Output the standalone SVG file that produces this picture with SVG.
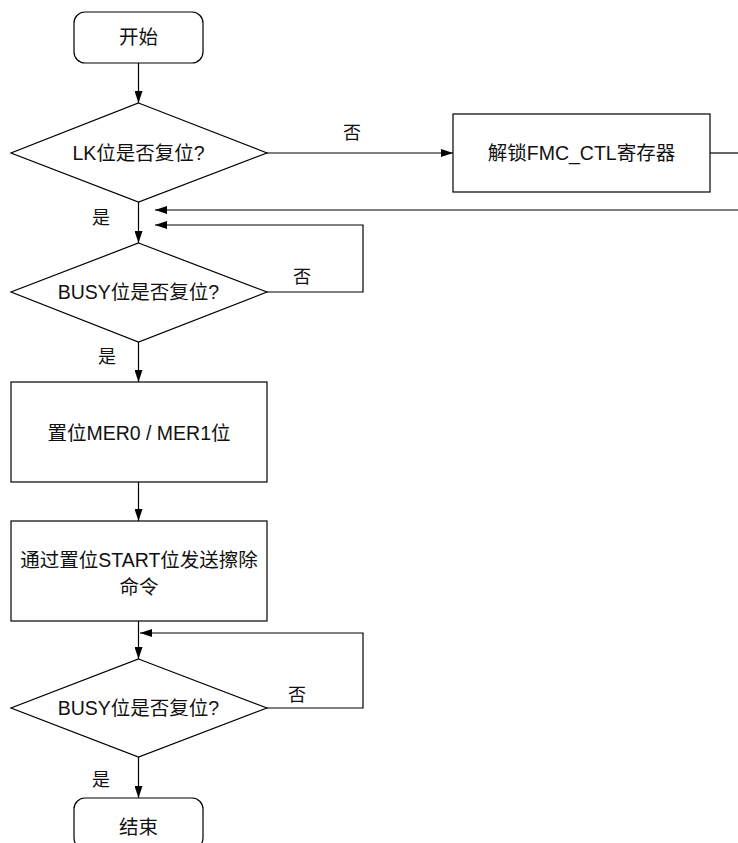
<svg xmlns="http://www.w3.org/2000/svg" width="738" height="843" viewBox="0 0 738 843">
<defs>
<marker id="ah" viewBox="0 0 12 8" refX="12" refY="4" markerWidth="12" markerHeight="8" markerUnits="userSpaceOnUse" orient="auto">
<path d="M0,0 L12,4 L0,8 Z" fill="#000"/>
</marker>
</defs>
<style>
.s{fill:#fff;stroke:#000;stroke-width:1.2}
.c{fill:none;stroke:#000;stroke-width:1.2}
.t{font-family:"Liberation Sans","Noto Sans CJK SC",sans-serif;font-size:19.5px;fill:#111;text-anchor:middle}
.l{font-family:"Liberation Sans","Noto Sans CJK SC",sans-serif;font-size:18px;fill:#111;text-anchor:middle}
</style>
<rect width="738" height="843" fill="#fff"/>
<g id="connectors">
<line class="c" x1="138.5" y1="63" x2="138.5" y2="103" marker-end="url(#ah)"/>
<line class="c" x1="267" y1="153" x2="453" y2="153" marker-end="url(#ah)"/>
<line class="c" x1="710" y1="153" x2="738" y2="153"/>
<line class="c" x1="738" y1="210" x2="155" y2="210" marker-end="url(#ah)"/>
<line class="c" x1="138.5" y1="202" x2="138.5" y2="243" marker-end="url(#ah)"/>
<polyline class="c" points="267,292 363,292 363,225 155,225" marker-end="url(#ah)"/>
<line class="c" x1="138.5" y1="342" x2="138.5" y2="382" marker-end="url(#ah)"/>
<line class="c" x1="138.5" y1="482" x2="138.5" y2="521" marker-end="url(#ah)"/>
<line class="c" x1="138.5" y1="621" x2="138.5" y2="659" marker-end="url(#ah)"/>
<polyline class="c" points="267,708 363,708 363,633 140,633" marker-end="url(#ah)"/>
<line class="c" x1="138.5" y1="757" x2="138.5" y2="798" marker-end="url(#ah)"/>
<text class="l" x="352" y="139">否</text>
<text class="l" x="101" y="224">是</text>
<text class="l" x="302" y="283">否</text>
<text class="l" x="107" y="363">是</text>
<text class="l" x="297" y="701">否</text>
<text class="l" x="101" y="786">是</text>
</g>
<g id="start">
<rect class="s" x="74" y="12" width="129" height="51" rx="11"/>
<text class="t" x="138.5" y="44">开始</text>
</g>
<g id="d1">
<polygon class="s" points="138.5,103 267,153 138.5,202 11,153"/>
<text class="t" x="138.5" y="160">LK位是否复位?</text>
</g>
<g id="unlock">
<rect class="s" x="453" y="114" width="257" height="78"/>
<text class="t" x="581.5" y="160">解锁FMC_CTL寄存器</text>
</g>
<g id="d2">
<polygon class="s" points="138.5,243 267,292 138.5,342 11,292"/>
<text class="t" x="138.5" y="299">BUSY位是否复位?</text>
</g>
<g id="setmer">
<rect class="s" x="11" y="382" width="256" height="100"/>
<text class="t" x="139" y="440">置位MER0 / MER1位</text>
</g>
<g id="start_erase">
<rect class="s" x="11" y="521" width="256" height="100"/>
<text class="t" x="139" y="567">通过置位START位发送擦除</text>
<text class="t" x="139" y="594">命令</text>
</g>
<g id="d3">
<polygon class="s" points="138.5,659 267,708 138.5,757 11,708"/>
<text class="t" x="138.5" y="715">BUSY位是否复位?</text>
</g>
<g id="end">
<rect class="s" x="74" y="798" width="129" height="51" rx="11"/>
<text class="t" x="138.5" y="834">结束</text>
</g>
</svg>
